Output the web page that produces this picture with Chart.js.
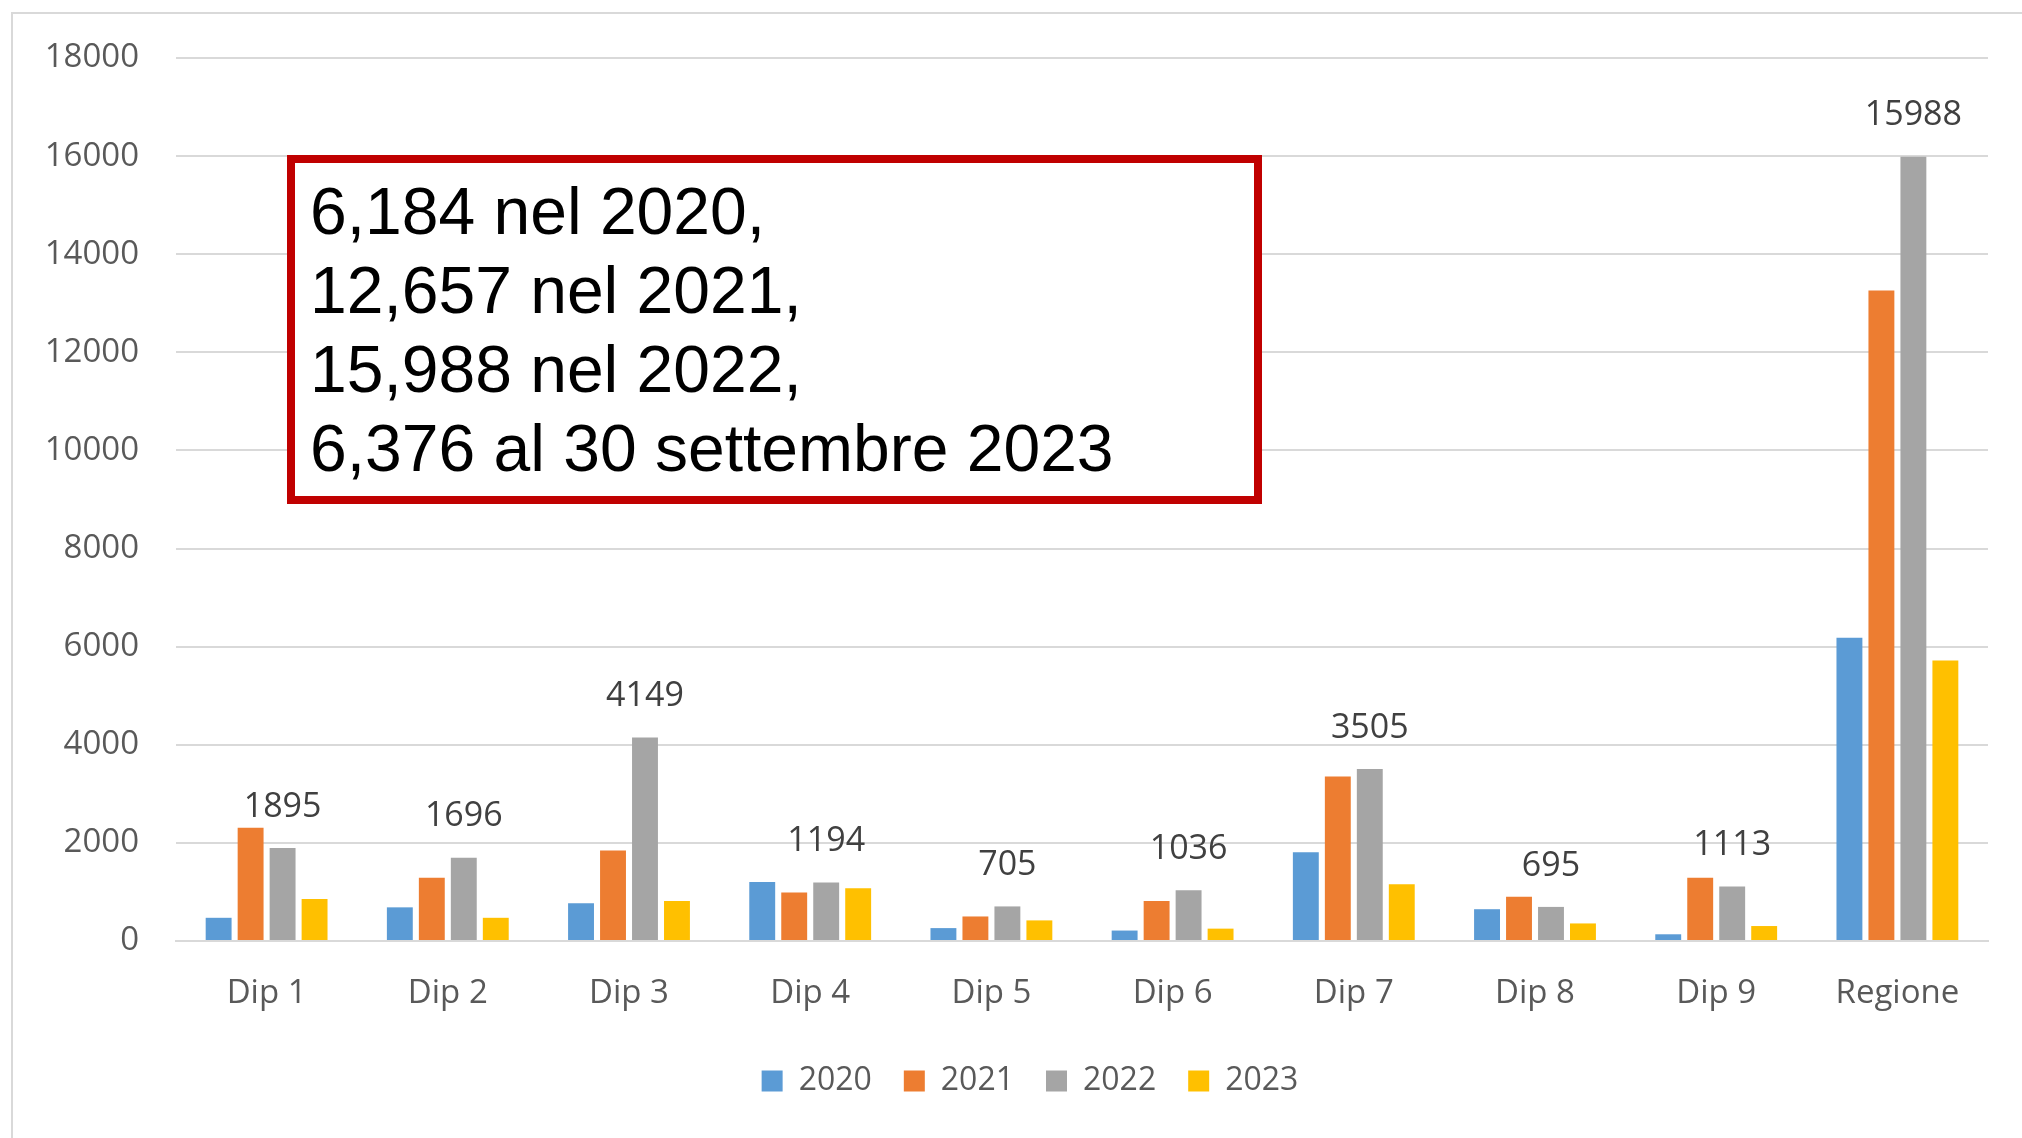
<!DOCTYPE html>
<html>
<head>
<meta charset="utf-8">
<script src="https://cdn.jsdelivr.net/npm/chart.js@4"></script>
<style>
  html, body { margin: 0; padding: 0; background: #fff; overflow: hidden; }
  #wrap { position: relative; width: 2022px; height: 1138px; }
  #chart { position: absolute; left: 0; top: 0; }
  .frame {
    position: absolute; left: 11px; top: 12px; right: 0; bottom: 0;
    border-left: 2px solid #d9d9d9; border-top: 2px solid #d9d9d9;
  }
  .note {
    position: absolute; left: 287px; top: 155px; width: 975px; height: 349px;
    box-sizing: border-box; border: 8px solid #c00000; background: #fff;
    padding: 9px 0 0 15px;
    font-family: "Liberation Sans", Arial, sans-serif; font-size: 66px; line-height: 79px; color: #000;
  }
</style>
</head>
<body>
<div id="wrap">
  <div class="frame"></div>
  <canvas id="chart" width="2022" height="1138"></canvas>
  <div class="note">6,184 nel 2020,<br>12,657 nel 2021,<br>15,988 nel 2022,<br>6,376 al 30 settembre 2023</div>
</div>
<script>
// valori
const categorie = ['Dip 1', 'Dip 2', 'Dip 3', 'Dip 4', 'Dip 5', 'Dip 6', 'Dip 7', 'Dip 8', 'Dip 9', 'Regione'];
const anni = ['2020', '2021', '2022', '2023'];
const v2020 = [473, 686, 770, 1205, 263, 213, 1807, 648, 137, 6184];
const v2021 = [2310, 1289, 1845, 991, 500, 816, 3355, 900, 1289, 13260];
const v2022 = [1895, 1696, 4149, 1194, 705, 1036, 3505, 695, 1113, 15988];
const v2023 = [854, 473, 816, 1075, 420, 252, 1159, 358, 305, 5720];
const colori = ['#5b9bd5', '#ed7d31', '#a5a5a5', '#ffc000'];
const yTicks = [0, 2000, 4000, 6000, 8000, 10000, 12000, 14000, 16000, 18000];

Chart.defaults.font.family = '"Open Sans", sans-serif';
Chart.defaults.color = '#595959';

// etichette solo sulla serie 2022
const etichette = {
    id: 'etichette',
    afterDatasetsDraw(chart) {
        const ctx = chart.ctx;
        const meta = chart.getDatasetMeta(2);
        ctx.save();
        ctx.font = '34px "Open Sans", sans-serif';
        ctx.fillStyle = '#404040';
        ctx.textAlign = 'center';
        ctx.textBaseline = 'middle';
        meta.data.forEach((bar, i) => {
            ctx.fillText(String(v2022[i]), bar.x, bar.y - 41);
        });
        ctx.restore();
    }
};

// la legenda in Excel è centrata sull'intera area del grafico, un po' più a destra
const spostaLegenda = {
    id: 'spostaLegenda',
    afterLayout(chart) {
        if (chart.legend) chart.legend.left = 72;
    }
};

const serie = [v2020, v2021, v2022, v2023];

new Chart(document.getElementById('chart'), {
    type: 'bar',
    data: {
        labels: categorie,
        datasets: serie.map((d, i) => ({
            label: anni[i],
            data: d,
            backgroundColor: colori[i],
            borderWidth: 0,
            categoryPercentage: 0.706,
            barPercentage: 0.81
        }))
    },
    options: {
        responsive: false,
        animation: false,
        layout: { padding: { left: 0, top: 58, right: 34, bottom: 31 } },
        scales: {
            x: {
                grid: { display: false, drawTicks: false },
                border: { display: true, color: '#d9d9d9', width: 2 },
                ticks: { font: { size: 33 }, color: '#595959', padding: 33 },
                afterFit(s) { s.height = 92; }
            },
            y: {
                min: 0, max: 18000,
                afterBuildTicks(s) { s.ticks = yTicks.map(v => ({ value: v })); },
                grid: { color: '#d9d9d9', lineWidth: 2, drawTicks: false },
                border: { display: false },
                ticks: { font: { size: 33 }, color: '#595959', padding: 37, callback: v => String(v) },
                afterFit(s) { s.width = 176; }
            }
        },
        plugins: {
            legend: {
                position: 'bottom',
                labels: {
                    boxWidth: 21, boxHeight: 21, padding: 32,
                    font: { size: 32 }, color: '#595959'
                }
            },
            tooltip: { enabled: false }
        }
    },
    plugins: [etichette, spostaLegenda]
});
</script>
</body>
</html>
